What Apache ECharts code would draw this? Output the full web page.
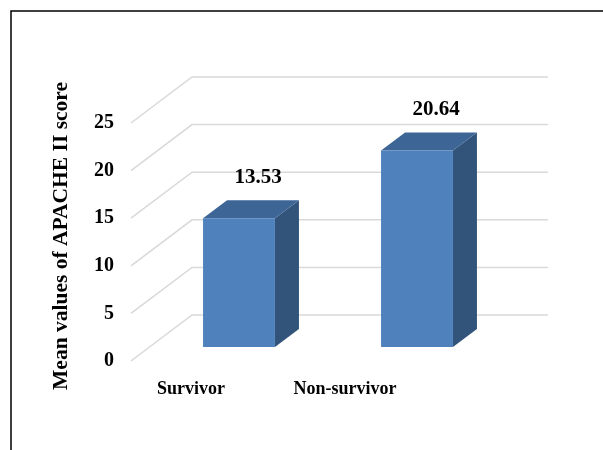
<!DOCTYPE html>
<html>
<head>
<meta charset="utf-8">
<script src="https://cdn.jsdelivr.net/npm/echarts@6/dist/echarts.min.js"></script>
<style>
  html, body { margin: 0; padding: 0; background: #fff; }
  #chart { width: 603px; height: 450px; }
</style>
</head>
<body>
<div id="chart"></div>
<script>
// Mean APACHE II score by outcome group
const categories = ['Survivor', 'Non-survivor'];
const meanScores = [13.53, 20.64];
const yTicks = [0, 5, 10, 15, 20, 25];

const FONT = '"Liberation Serif", "Times New Roman", serif';
const FRONT = '#4f81bd', TOP = '#3d6596', SIDE = '#32547b';
const DEPTH = [24, -18];        // bar depth (oblique projection)
const WALL_BACK = [42, -32];    // back wall offset from the bar plane
const WALL_FRONT = [-19, 14];   // floor front edge offset from the bar plane

const chart = echarts.init(document.getElementById('chart'), null, { renderer: 'canvas' });

const catStyle = { fontFamily: FONT, fontWeight: 'bold', fontSize: 18, color: '#000' };

chart.setOption({
  animation: false,
  backgroundColor: '#fff',
  graphic: [{
    type: 'polyline',
    shape: { points: [[11, 460], [11, 11], [620, 11]] },
    style: { stroke: '#000', lineWidth: 1.5, fill: null }
  }, {
    type: 'text',
    left: 50, top: 82,
    rotation: Math.PI / 2,
    style: { text: 'Mean values of APACHE II score', font: 'bold 21.5px ' + FONT, fill: '#000' }
  }],
  grid: { left: 150, right: 97, top: 109, bottom: 103 },
  xAxis: {
    type: 'category',
    data: categories,
    axisLine: { show: false },
    axisTick: { show: false },
    axisLabel: {
      margin: 33,
      formatter: (v, i) => '{c' + i + '|' + v + '}',
      rich: {
        c0: Object.assign({ padding: [0, 96, 0, 0] }, catStyle),
        c1: Object.assign({ padding: [0, 144, 0, 0] }, catStyle)
      }
    }
  },
  yAxis: {
    type: 'value',
    min: 0, max: 25, interval: 5,
    axisLine: { show: false },
    axisTick: { show: false },
    splitLine: { show: false },
    axisLabel: { show: false }
  },
  series: [{
    // perspective gridlines (floor-front edge → back wall) with their tick labels
    type: 'custom',
    silent: true,
    z: 1,
    data: yTicks.map(v => [0, v]),
    renderItem: (params, api) => {
      const cs = params.coordSys;
      const v = api.value(1);
      const y = api.coord([0, v])[1];
      const xl = cs.x, xr = cs.x + cs.width;
      return {
        type: 'group',
        children: [{
          type: 'polyline',
          shape: { points: [
            [xl + WALL_FRONT[0], y + WALL_FRONT[1]],
            [xl + WALL_BACK[0], y + WALL_BACK[1]],
            [xr + WALL_BACK[0], y + WALL_BACK[1]]
          ] },
          style: { stroke: '#d9d9d9', lineWidth: 1.5, fill: null }
        }, {
          type: 'text',
          x: xl + WALL_FRONT[0] - 17, y: y + WALL_FRONT[1],
          style: {
            text: String(v),
            font: 'bold 20px ' + FONT,
            fill: '#000',
            align: 'right',
            verticalAlign: 'middle'
          }
        }]
      };
    }
  }, {
    // 3D-looking bars
    type: 'custom',
    z: 2,
    data: meanScores.map((v, i) => [i, v]),
    renderItem: (params, api) => {
      const i = api.value(0), v = api.value(1);
      const base = api.coord([i, 0]);
      const top = api.coord([i, v]);
      const w = api.size([1, 0])[0] * 0.404;
      const x0 = base[0] - w / 2, x1 = base[0] + w / 2;
      const yb = base[1], yt = top[1];
      const dx = DEPTH[0], dy = DEPTH[1];
      return {
        type: 'group',
        children: [{
          type: 'polygon',
          shape: { points: [[x1, yt], [x1 + dx, yt + dy], [x1 + dx, yb + dy], [x1, yb]] },
          style: { fill: SIDE }
        }, {
          type: 'polygon',
          shape: { points: [[x0, yt], [x0 + dx, yt + dy], [x1 + dx, yt + dy], [x1, yt]] },
          style: { fill: TOP }
        }, {
          type: 'rect',
          shape: { x: x0, y: yt, width: w, height: yb - yt },
          style: { fill: FRONT }
        }, {
          type: 'text',
          x: base[0] + 19, y: yt - 41,
          style: {
            text: v.toFixed(2),
            font: 'bold 21px ' + FONT,
            fill: '#000',
            align: 'center',
            verticalAlign: 'middle'
          }
        }]
      };
    }
  }]
});
</script>
</body>
</html>
